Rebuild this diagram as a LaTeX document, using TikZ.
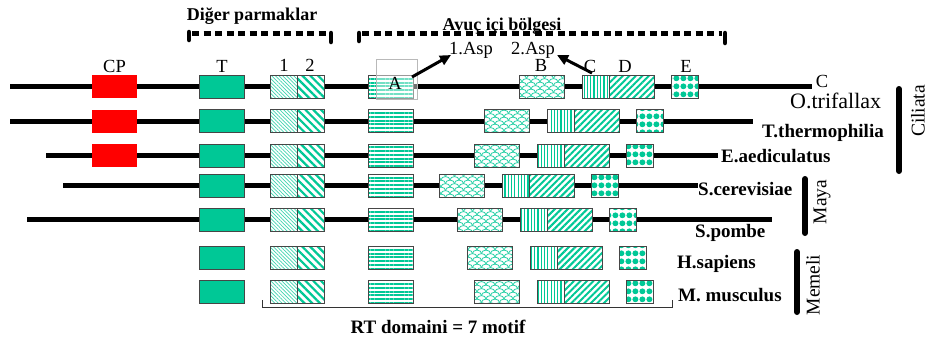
\documentclass[tikz,border=0pt]{standalone}
\usepackage{fontspec}
\setmainfont{Liberation Serif}
\usetikzlibrary{patterns.meta,arrows.meta}
\definecolor{tealg}{RGB}{0,200,150}
\definecolor{boxline}{RGB}{70,70,70}
\definecolor{cpred}{RGB}{255,0,0}

\tikzdeclarepattern{
  name=scales, type=uncolored,
  bounding box={(-0.5pt,-0.5pt) and (9.5pt,7.5pt)},
  tile size={(9pt,7pt)},
  code={
    \draw[line width=0.8pt] (0pt,0pt) .. controls (0pt,4.5pt) and (9pt,4.5pt) .. (9pt,0pt);
    \draw[line width=0.8pt] (0pt,6.9pt) .. controls (2.5pt,6.9pt) and (4.5pt,5.5pt) .. (4.5pt,3.5pt);
    \draw[line width=0.8pt] (4.5pt,3.5pt) .. controls (4.5pt,5.5pt) and (6.5pt,6.9pt) .. (9pt,6.9pt);
  }
}
\tikzdeclarepattern{
  name=bigdots, type=uncolored,
  bounding box={(0pt,0pt) and (6.8pt,7.6pt)},
  tile size={(6.8pt,7.6pt)},
  code={
    \fill (3.4pt,3.8pt) circle (3pt);
  }
}

\tikzset{
  box/.style={draw=boxline, line width=0.9pt, minimum height=23pt, inner sep=0pt, outer sep=0pt},
  wide/.style={minimum width=45pt},
  narrow/.style={minimum width=27pt},
  solidT/.style={box, wide, fill=tealg},
  cpbox/.style={fill=cpred, minimum width=45pt, minimum height=23pt, inner sep=0pt},
  m1/.style={box, narrow, preaction={fill=white}, pattern={Lines[angle=-45,distance=2.6pt,line width=0.7pt]}, pattern color=tealg!75},
  m2/.style={box, narrow, preaction={fill=white}, pattern={Lines[angle=-45,distance=5.5pt,line width=2.2pt]}, pattern color=tealg},
  mA/.style={box, wide, preaction={fill=white}, pattern={Lines[angle=0,distance=3.8pt,line width=2pt]}, pattern color=tealg},
  mB/.style={box, wide, preaction={fill=white}, pattern=scales, pattern color=tealg!85},
  mC/.style={box, narrow, preaction={fill=white}, pattern={Lines[angle=90,distance=3.3pt,line width=1.2pt]}, pattern color=tealg},
  mD/.style={box, wide, preaction={fill=white}, pattern={Lines[angle=45,distance=4.6pt,line width=2pt]}, pattern color=tealg},
  mE/.style={box, narrow, preaction={fill=white}, pattern=bigdots, pattern color=tealg},
  backbone/.style={line width=5pt, black},
  lab/.style={font=\fontsize{18.5}{20}\selectfont, inner sep=0pt},
  asplab/.style={font=\fontsize{18.5}{20}\selectfont, inner sep=0pt},
  species/.style={font=\fontsize{19}{21}\selectfont\bfseries, inner sep=0pt, anchor=base west},
  grp/.style={font=\fontsize{19.5}{21}\selectfont, inner sep=0pt, rotate=90},
  gbar/.style={line width=6pt, line cap=round},
  dotbr/.style={line width=5pt, dash pattern=on 7pt off 4.5pt},
  brtick/.style={line width=4.5pt, line cap=round},
  asp/.style={line width=3pt, -{Triangle[length=11pt,width=10pt]}},
  headlab/.style={font=\fontsize{18}{20}\selectfont\bfseries, inner sep=0pt, anchor=base},
}

\begin{document}
\begin{tikzpicture}[x=1pt,y=-1pt]
\useasboundingbox (0,0) rectangle (930,341);
\fill[white] (0,0) rectangle (930,341);

% backbones
\foreach \r/\y/\xs/\xe in {1/86.5/10/812, 2/121/10/753, 3/155.5/46/718, 4/185.5/63/698, 5/219.5/27/772} {
  \coordinate (ls\r) at (\xs,\y);
  \coordinate (le\r) at (\xe,\y);
  \draw[backbone] (ls\r) -- (le\r);
}

% CP boxes
\foreach \r/\y in {1/86.5, 2/121, 3/155.5} {
  \node[cpbox] (CP\r) at (114.5,\y) {};
}

% motif boxes
\foreach \r/\y/\bx in {1/86.5/519, 2/121/484, 3/155.5/474, 4/185.5/439, 5/219.5/457, 6/258/467, 7/292/474} {
  \node[solidT] (T\r) at (221.5,\y) {};
  \node[m1] (one\r) at (283.5,\y) {};
  \node[m2] (two\r) at (310.5,\y) {};
  \node[mA] (A\r) at (390.5,\y) {};
  \node[mB] (B\r) at (\bx+22.5,\y) {};
  \node[mC] (C\r) at (\bx+76.5,\y) {};
  \node[mD] (D\r) at (\bx+112.5,\y) {};
  \node[mE] (E\r) at (\bx+165.5,\y) {};
}

% overlay on A
\node[draw=gray!55, line width=0.8pt, fill=white, fill opacity=0.45, minimum width=41pt, minimum height=40pt, inner sep=0pt] (Aov) at (396.5,79) {};
\node[lab, anchor=base] (Alab) at (395,89) {A};

% column labels
\node[lab, anchor=base] (cpL) at (114.5,72) {CP};
\node[lab, anchor=base] (tL) at (222,72) {T};
\node[lab, anchor=base] (oneL) at (284,71) {1};
\node[lab, anchor=base] (twoL) at (310,71) {2};
\node[lab, anchor=base] (bL) at (541,71) {B};
\node[lab, anchor=base] (cL) at (590,72) {C};
\node[lab, anchor=base] (dL) at (625,72) {D};
\node[lab, anchor=base] (eL) at (686,72) {E};
\node[lab, anchor=base] (cEnd) at (822,87) {C};

% Asp labels and arrows
\node[asplab, anchor=base] (asp1) at (471,54) {1.Asp};
\node[asplab, anchor=base] (asp2) at (533,54) {2.Asp};
\coordinate (a1s) at (412,77);
\coordinate (a1e) at (451,55);
\draw[asp] (a1s) -- (a1e);
\coordinate (a2s) at (592,73);
\coordinate (a2e) at (557,55);
\draw[asp] (a2s) -- (a2e);

% top brackets
\coordinate (lb1) at (192,33);
\coordinate (lb2) at (328,33);
\draw[dotbr] (lb1) -- (lb2);
\coordinate (lt1a) at (189,32); \coordinate (lt1b) at (189,40);
\coordinate (lt2a) at (331,33); \coordinate (lt2b) at (331,42);
\draw[brtick] (lt1a) -- (lt1b);
\draw[brtick] (lt2a) -- (lt2b);
\coordinate (rb1) at (362,33);
\coordinate (rb2) at (722,33);
\draw[dotbr] (rb1) -- (rb2);
\coordinate (rt1a) at (359,33); \coordinate (rt1b) at (359,41);
\coordinate (rt2a) at (725,33); \coordinate (rt2b) at (725,43);
\draw[brtick] (rt1a) -- (rt1b);
\draw[brtick] (rt2a) -- (rt2b);
\node[headlab] (diger) at (252,20) {Diğer parmaklar};
\node[headlab] (avuc) at (502,30) {Avuç içi bölgesi};

% species labels
\node[font=\fontsize{22}{24}\selectfont, inner sep=0pt, anchor=base west] (otri) at (790,108) {O.trifallax};
\node[species] (tthe) at (762,137) {T.thermophilia};
\node[species] (eaed) at (721,162) {E.aediculatus};
\node[species] (scer) at (698,195) {S.cerevisiae};
\node[species] (spom) at (695,237) {S.pombe};
\node[species] (hsap) at (677,268) {H.sapiens};
\node[species] (mmus) at (678,301) {M. musculus};

% group bars
\coordinate (cb1) at (899,89); \coordinate (cb2) at (899,171);
\draw[gbar] (cb1) -- (cb2);
\node[grp] (cil) at (918,111) {Ciliata};
\coordinate (mb1) at (805,179); \coordinate (mb2) at (805,233);
\draw[gbar] (mb1) -- (mb2);
\node[grp] (maya) at (822,202) {Maya};
\coordinate (eb1) at (797,252); \coordinate (eb2) at (797,312);
\draw[gbar] (eb1) -- (eb2);
\node[grp] (memeli) at (813,285) {Memeli};

% RT domain bracket
\coordinate (rt1) at (262,300); \coordinate (rt2) at (262,307);
\coordinate (rt3) at (672,307); \coordinate (rt4) at (672,300);
\draw[line width=1pt, black!80] (rt1) -- (rt2) -- (rt3) -- (rt4);
\node[font=\fontsize{19}{21}\selectfont\bfseries, inner sep=0pt, anchor=base] (rtdom) at (438,333) {RT domaini = 7 motif};
\end{tikzpicture}
\end{document}
